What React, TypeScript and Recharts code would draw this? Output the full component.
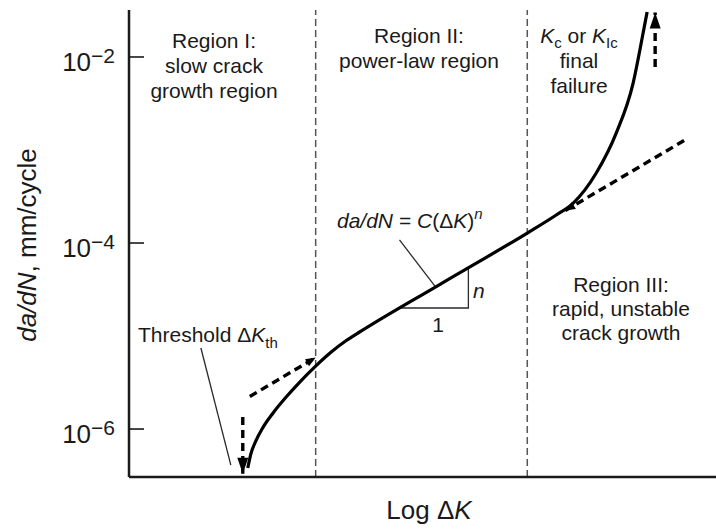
import React from 'react'
import { ComposedChart, Line, Scatter, XAxis, YAxis, ReferenceLine } from 'recharts'

const FONT = '"Liberation Sans", Arial, Helvetica, sans-serif'
const INK = '#1a1a1a'

// log ΔK in arbitrary units along x, da/dN in mm/cycle on a log y axis
const curveLogK = [1.214, 1.245, 1.296, 1.367, 1.469, 1.602, 1.755, 1.908, 2.061, 2.214, 2.367, 3.184, 4.071, 4.367, 4.541, 4.776, 4.98, 5.153, 5.255, 5.296]
const curveRate = [3.81e-7, 5.38e-7, 7.43e-7, 1.03e-6, 1.47e-6, 2.18e-6, 3.28e-6, 4.75e-6, 6.65e-6, 8.83e-6, 1.12e-5, 3.62e-5, 1.28e-4, 2.0e-4, 2.69e-4, 5.66e-4, 1.52e-3, 5.25e-3, 1.81e-2, 3.05e-2]

// Paris-law straight line carried past regions I and III
const lowerFitLogK = [1.235, 1.908]
const lowerFitRate = [2.24e-6, 5.86e-6]
const upperFitLogK = [4.459, 5.714]
const upperFitRate = [2.23e-4, 1.34e-3]

// threshold and final-failure arrows
const thresholdLogK = [1.163, 1.163]
const thresholdRate = [1.35e-6, 3.3e-7]
const failureLogK = [5.378, 5.378]
const failureRate = [7.8e-3, 3.0e-2]

// slope triangle on the region II line and the two leader lines
const triangleLogK = [2.765, 3.469, 3.469]
const triangleRate = [2.0e-5, 2.0e-5, 5.43e-5]
const formulaLeaderLogK = [2.765, 3.133]
const formulaLeaderRate = [1.08e-4, 3.37e-5]
const thresholdLeaderLogK = [0.735, 1.041]
const thresholdLeaderRate = [7.43e-6, 4.1e-7]

const regionBounds = [1.908, 4.071]
const rateTicks = [1e-6, 1e-4, 1e-2]
const logKDomain = [0, 6]
const rateDomain = [3.05e-7, 3.2e-2]

const arrowTipLogK = [1.163, 5.378, 1.908, 4.459]
const arrowTipRate = [3.3e-7, 3.0e-2, 5.86e-6, 2.23e-4]
const arrowHeading = ['down', 'up', 'alongUp', 'alongDown']

const zip = (xs: number[], ys: number[]) => xs.map((x, i) => ({ x, y: ys[i] }))

const curve = zip(curveLogK, curveRate)
const lowerFit = zip(lowerFitLogK, lowerFitRate)
const upperFit = zip(upperFitLogK, upperFitRate)
const thresholdArrow = zip(thresholdLogK, thresholdRate)
const failureArrow = zip(failureLogK, failureRate)
const triangle = zip(triangleLogK, triangleRate)
const formulaLeader = zip(formulaLeaderLogK, formulaLeaderRate)
const thresholdLeader = zip(thresholdLeaderLogK, thresholdLeaderRate)
const arrowTips = arrowTipLogK.map((x, i) => ({ x, y: arrowTipRate[i], heading: arrowHeading[i] }))

const HEADING_DEG: Record<string, number> = { down: 90, up: -90, alongUp: -30.5, alongDown: 149.5 }

function ArrowHead(props: any) {
  const { cx, cy, payload } = props
  if (cx == null || cy == null) return null
  const big = payload.heading === 'up' || payload.heading === 'down'
  const len = big ? 16 : 10
  const half = big ? 5.5 : 4
  return (
    <polygon
      points={`0,0 ${-len},${-half} ${-len},${half}`}
      transform={`translate(${cx},${cy}) rotate(${HEADING_DEG[payload.heading]})`}
      fill="#000"
    />
  )
}

function RateTick(props: any) {
  const { x, y, payload } = props
  const exp = Math.round(Math.log10(payload.value))
  return (
    <g>
      <line x1={x} x2={x + 15} y1={y} y2={y} stroke={INK} strokeWidth={1.6} />
      <text x={x - 14} y={y + 14} textAnchor="end" fontFamily={FONT} fontSize={26} fill={INK}>
        10
        <tspan dy={-8} fontSize={21}>{`\u2212${-exp}`}</tspan>
      </text>
    </g>
  )
}

const thin = { stroke: '#2a2a2a', strokeWidth: 1.3 }
const heavyDash = { stroke: '#000', strokeWidth: 3.4, strokeDasharray: '8 5' }

function Annotations() {
  const t = { fontFamily: FONT, fontSize: 21, fill: INK }
  return (
    <svg width={716} height={529} style={{ position: 'absolute', left: 0, top: 0, pointerEvents: 'none' }}>
      <g {...t} textAnchor="middle">
        <text x={214} y={48}>Region I:</text>
        <text x={214} y={73}>slow crack</text>
        <text x={214} y={98}>growth region</text>

        <text x={419} y={43}>Region II:</text>
        <text x={419} y={68}>power-law region</text>

        <text x={579} y={43}>
          <tspan fontStyle="italic">K</tspan>
          <tspan dy={5} fontSize={15}>c</tspan>
          <tspan dy={-5}> or </tspan>
          <tspan fontStyle="italic">K</tspan>
          <tspan dy={5} fontSize={15}>Ic</tspan>
        </text>
        <text x={579} y={68}>final</text>
        <text x={579} y={93}>failure</text>

        <text x={621} y={292}>Region III:</text>
        <text x={621} y={316}>rapid, unstable</text>
        <text x={621} y={340}>crack growth</text>

        <text x={438} y={332}>1</text>
      </g>

      <text {...t} x={337} y={228}>
        <tspan fontStyle="italic">da/dN</tspan>
        <tspan> = </tspan>
        <tspan fontStyle="italic">C</tspan>
        <tspan>({'\u0394'}</tspan>
        <tspan fontStyle="italic">K</tspan>
        <tspan>)</tspan>
        <tspan dy={-9} fontSize={15} fontStyle="italic">n</tspan>
      </text>
      <text {...t} x={473} y={298} fontStyle="italic">n</text>

      <text {...t} x={138} y={342}>
        <tspan>Threshold {'\u0394'}</tspan>
        <tspan fontStyle="italic">K</tspan>
        <tspan dy={6} fontSize={15}>th</tspan>
      </text>

      <text x={429} y={519} textAnchor="middle" fontFamily={FONT} fontSize={26} fill={INK}>
        <tspan>Log {'\u0394'}</tspan>
        <tspan fontStyle="italic">K</tspan>
      </text>

      <text
        x={36}
        y={245}
        transform="rotate(-90 36 245)"
        textAnchor="middle"
        fontFamily={FONT}
        fontSize={26}
        fill={INK}
      >
        <tspan fontStyle="italic">da/dN</tspan>
        <tspan>, mm/cycle</tspan>
      </text>
    </svg>
  )
}

export default function App() {
  return (
    <div style={{ position: 'absolute', left: 0, top: 0, width: 716, height: 529, background: '#fff' }}>
      <ComposedChart width={716} height={529} margin={{ top: 10, right: 0, bottom: 0, left: 0 }}>
        <XAxis
          dataKey="x"
          type="number"
          domain={logKDomain}
          allowDataOverflow
          height={52}
          tick={false}
          tickLine={false}
          axisLine={{ stroke: INK, strokeWidth: 2.5 }}
        />
        <XAxis
          xAxisId="top"
          orientation="top"
          dataKey="x"
          type="number"
          domain={logKDomain}
          height={0}
          tick={false}
          tickLine={false}
          axisLine={{ stroke: INK, strokeWidth: 2.5 }}
        />
        <YAxis
          type="number"
          scale="log"
          domain={rateDomain}
          allowDataOverflow
          ticks={rateTicks}
          width={129}
          tickSize={0}
          tickMargin={0}
          tickLine={false}
          tick={<RateTick />}
          axisLine={{ stroke: INK, strokeWidth: 2.5 }}
        />

        {regionBounds.map((b) => (
          <ReferenceLine key={b} x={b} stroke="#555" strokeWidth={1.5} strokeDasharray="7 4" />
        ))}

        <Line data={lowerFit} dataKey="y" type="linear" dot={false} activeDot={false} isAnimationActive={false} {...heavyDash} />
        <Line data={upperFit} dataKey="y" type="linear" dot={false} activeDot={false} isAnimationActive={false} {...heavyDash} />
        <Line data={thresholdArrow} dataKey="y" type="linear" dot={false} activeDot={false} isAnimationActive={false} {...heavyDash} />
        <Line data={failureArrow} dataKey="y" type="linear" dot={false} activeDot={false} isAnimationActive={false} {...heavyDash} />

        <Line data={triangle} dataKey="y" type="linear" dot={false} activeDot={false} isAnimationActive={false} {...thin} />
        <Line data={formulaLeader} dataKey="y" type="linear" dot={false} activeDot={false} isAnimationActive={false} {...thin} />
        <Line data={thresholdLeader} dataKey="y" type="linear" dot={false} activeDot={false} isAnimationActive={false} {...thin} />

        <Line
          data={curve}
          dataKey="y"
          type="monotone"
          stroke="#000"
          strokeWidth={3.2}
          dot={false}
          activeDot={false}
          isAnimationActive={false}
        />

        <Scatter data={arrowTips} dataKey="y" shape={<ArrowHead />} isAnimationActive={false} />
      </ComposedChart>
      <Annotations />
    </div>
  )
}
